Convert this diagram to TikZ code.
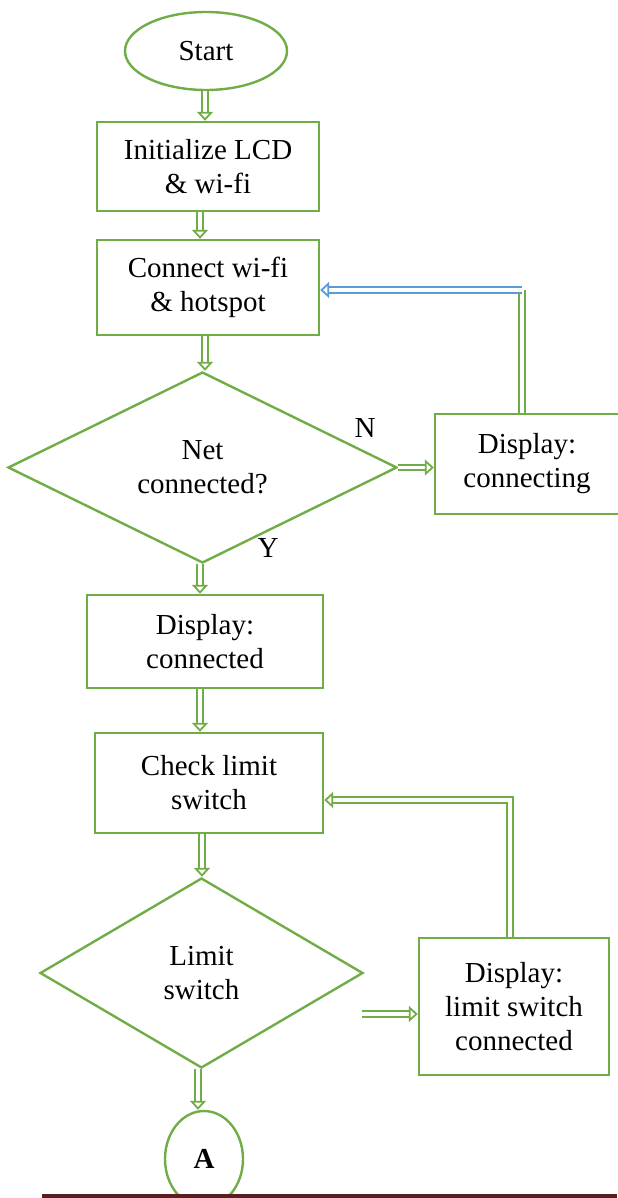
\documentclass[tikz,border=0pt]{standalone}
\usepackage{fontspec}
\setmainfont{Liberation Serif}
\usetikzlibrary{shapes.geometric,arrows.meta}
\definecolor{flowgreen}{HTML}{70AD47}
\definecolor{flowblue}{HTML}{5B9BD5}
\definecolor{rulered}{HTML}{5A1E1E}
\tikzset{
  box/.style={draw=flowgreen,line width=1.2pt,rectangle,align=center,inner sep=0pt},
  dec/.style={draw=flowgreen,line width=1.2pt,diamond,align=center,inner sep=0pt},
  term/.style={draw=flowgreen,line width=1.2pt,ellipse,align=center,inner sep=0pt},
  dline/.style={draw=flowgreen,double=white,double distance=1.8pt,line width=0.9pt},
  arr/.style={dline,-{Triangle[open,length=4.5pt,width=8pt]}}
}
\begin{document}
\begin{tikzpicture}[x=0.5pt,y=-0.5pt,font=\fontsize{14.5}{17}\selectfont]
		\useasboundingbox (0,0) rectangle (617,1198);
		% nodes
		\node[term,minimum width=81pt,minimum height=39pt] (start) at (206,51) {Start};
		\node[box,minimum width=111pt,minimum height=44.5pt] (init) at (208,166.5) {Initialize LCD\\\& wi-fi};
		\node[box,minimum width=111pt,minimum height=47.5pt] (connect) at (208,287.5) {Connect wi-fi\\\& hotspot};
		\node[dec,minimum width=194.5pt,minimum height=95.5pt] (netq) at (202.5,467.5) {Net\\connected?};
		\node[box,minimum width=92pt,minimum height=50pt] (dispwait) at (527,464) {Display:\\connecting};
		\node[box,minimum width=118pt,minimum height=46.5pt] (dispok) at (205,641.5) {Display:\\connected};
		\node[box,minimum width=114pt,minimum height=50pt] (check) at (209,783) {Check limit\\switch};
		\node[dec,minimum width=161.5pt,minimum height=95pt] (limq) at (201.5,973) {Limit\\switch};
		\node[box,minimum width=95pt,minimum height=68.5pt] (displim) at (514,1006.5) {Display:\\limit switch\\connected};
		\node[term,minimum width=39pt,minimum height=48pt] (conA) at (204,1159) {\textbf{A}};
		\node (lblN) at (365,428) {N};
		\node (lblY) at (268,548) {Y};
		% connectors
		\draw[arr] (start.south -| 205,0) -- (init.north -| 205,0);
		\draw[arr] (init.south -| 200,0) -- (connect.north -| 200,0);
		\draw[arr] (connect.south -| 205,0) -- (netq.north -| 205,0);
		\draw[arr] (netq.east) -- (dispwait.west |- netq.east);
		\coordinate (loopA) at (522,290);
		\draw[dline] (dispwait.north -| loopA) -- (loopA);
		\draw[arr,draw=flowblue] (loopA) -- (connect.east |- loopA);
		\draw[arr] (netq.south -| 200,0) -- (dispok.north -| 200,0);
		\draw[arr] (dispok.south -| 200,0) -- (check.north -| 200,0);
		\draw[arr] (check.south -| 202,0) -- (limq.north -| 202,0);
		\coordinate (limout) at (362,1014);
		\draw[arr] (limout) -- (displim.west |- limout);
		\coordinate (loopB) at (510,800);
		\draw[arr] (displim.north -| loopB) -- (loopB) -- (check.east |- loopB);
		\draw[arr] (limq.south -| 198,0) -- (conA.north -| 198,0);
		% bottom rule
		\draw[rulered,line width=1.6pt] (42,1196) -- (617,1196);
	\end{tikzpicture}
\end{document}
